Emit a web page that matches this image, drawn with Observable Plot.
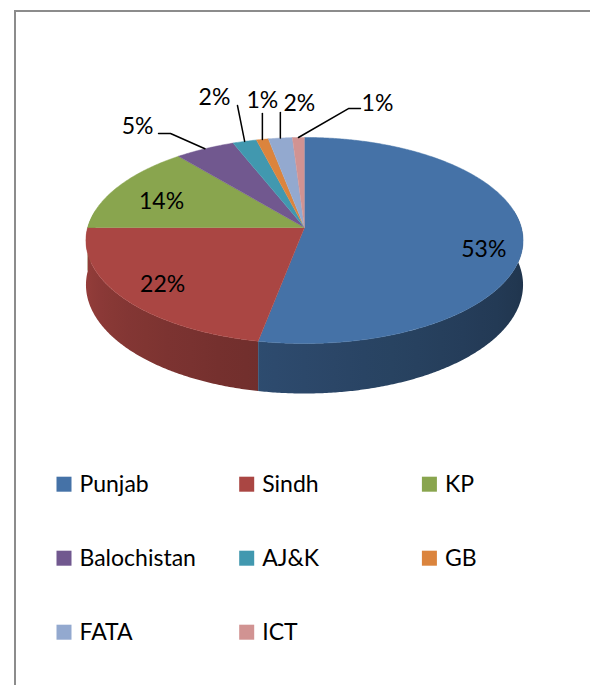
<!DOCTYPE html>
<html>
<head>
<meta charset="utf-8">
<script src="https://cdn.jsdelivr.net/npm/d3@7"></script>
<script src="https://cdn.jsdelivr.net/npm/@observablehq/plot@0.6"></script>
<style>
  html, body { margin: 0; padding: 0; background: #ffffff; }
  #wrap { position: relative; width: 590px; height: 685px; overflow: hidden; }
  #frame { position: absolute; left: 14px; top: 10px; width: 600px; height: 700px;
           border-left: 2px solid #8c8c8c; border-top: 2px solid #8c8c8c; pointer-events: none; }
  #chart { position: absolute; left: 0; top: 0; }
</style>
</head>
<body>
<div id="wrap"><div id="chart"></div><div id="frame"></div></div>
<script>
// ---- data ----
const names  = ["Punjab", "Sindh", "KP", "Balochistan", "AJ&K", "GB", "FATA", "ICT"];
const shares = [53, 22, 14, 5, 2, 1, 2, 1];
const colors = ["#4572A7", "#AA4643", "#89A54E", "#71588F", "#4198AF", "#DB843D", "#93A9CF", "#D19392"];
const labels = ["53%", "22%", "14%", "5%", "2%", "1%", "2%", "1%"];

// ---- layout (pixel geometry of the 3D pie) ----
const cx = 304, cy = 227, A = 216.8, B = 101.4, K = 0.126, T = 43.7;
const deg = Math.PI / 180;
function P(theta, r, z = 0) {
  const u = r * Math.sin(theta * deg), v = -r * Math.cos(theta * deg);
  const w = 1 - K * v;
  return [cx + A * u / w, cy + (B * v + z) / w];
}
const shade = th => Math.max(0.2, Math.min(2.4, 0.25 + (270 - th) / 180 * 2.05));
// label placement: inside labels at radius r with nudge; callouts relative to rim point
const labelLayout = {
  "Punjab":      {r: 0.8, dx: 5,     dy: 14.5},
  "Sindh":       {r: 0.8, dx: 1,     dy: 2},
  "KP":          {r: 0.8, dx: 7.5,   dy: 7},
  "Balochistan": {r: 1, dx: -67.4, dy: -21.8, leader: [[-34.4, -15.3], [-46.4, -15.3]]},
  "AJ&K":        {r: 1, dx: -30.2, dy: -43.4, leader: [[-7.2, -35.9]]},
  "GB":          {r: 1, dx: 0,     dy: -38.9, leader: [[0, -26]]},
  "FATA":        {r: 1, dx: 19,    dy: -34.1, leader: [[0, -25.6]]},
  "ICT":         {r: 1, dx: 79,    dy: -33.4, leader: [[50, -28.9], [62, -28.9]]}
};

// ---- derived geometry ----
const total = d3.sum(shares);
let cum = 0;
const slices = names.map((n, i) => {
  const s = cum / total * 360; cum += shares[i];
  const e = cum / total * 360;
  return {name: n, idx: i, start: s, end: e, mid: (s + e) / 2, color: colors[i], label: labels[i]};
});
// silhouette angles (widest points) and front side range
const thR = Math.acos(-K) / deg, thL = 360 - thR;
const sideLo = 80, sideHi = 280;
const xL = P(thL, 1)[0], xR = P(thR, 1)[0];
// side walls: one polygon per slice, filled with a horizontal shading gradient
const sides = slices
  .map(s => ({s, a0: Math.max(s.start, sideLo), a1: Math.min(s.end, sideHi)}))
  .filter(d => d.a1 > d.a0)
  .sort((p, q) => -Math.cos((p.a0 + p.a1) / 2 * deg) + Math.cos((q.a0 + q.a1) / 2 * deg));
const sidePts = [];
sides.forEach(({s, a0, a1}) => {
  const n = Math.max(2, Math.ceil((a1 - a0) / 0.5));
  const c = `url(#side${s.idx})`;
  for (let j = 0; j <= n; j++) { const [x, y] = P(a0 + (a1 - a0) * j / n, 1, 0); sidePts.push({name: s.name, x, y, c}); }
  for (let j = n; j >= 0; j--) { const [x, y] = P(a0 + (a1 - a0) * j / n, 1, T); sidePts.push({name: s.name, x, y, c}); }
});
// top faces
const topPts = [];
slices.forEach(s => {
  topPts.push({name: s.name, x: cx, y: cy, c: s.color});
  const n = Math.max(2, Math.ceil((s.end - s.start) / 0.5));
  for (let j = 0; j <= n; j++) {
    const [x, y] = P(s.start + (s.end - s.start) * j / n, 1);
    topPts.push({name: s.name, x, y, c: s.color});
  }
});
// labels and leaders
const labelPts = [], leaderPts = [];
slices.forEach(s => {
  const L = labelLayout[s.name];
  const [x0, y0] = P(s.mid, L.r);
  labelPts.push({x: x0 + L.dx, y: y0 + L.dy, text: s.label});
  if (L.leader) {
    leaderPts.push({name: s.name, x: x0, y: y0});
    L.leader.forEach(([dx, dy]) => leaderPts.push({name: s.name, x: x0 + dx, y: y0 + dy}));
  }
});
// legend (3 columns)
const legend = slices.map((s, i) => {
  const col = i % 3, row = Math.floor(i / 3);
  const lx = 56.5 + col * 182.7, ly = 484.2 + row * 74;
  return {name: s.name, c: s.color, x1: lx, x2: lx + 15, y1: ly - 7.5, y2: ly + 7.5, tx: lx + 22.5, ty: ly};
});

const chart = Plot.plot({
  width: 590, height: 685, margin: 0,
  x: {domain: [0, 590], range: [0, 590], axis: null},
  y: {domain: [0, 685], range: [0, 685], axis: null},
  color: {type: "identity"},
  style: {fontFamily: "Lato, 'Open Sans', sans-serif", fontSize: "23px", background: "transparent", color: "#000"},
  marks: [
    Plot.line(sidePts, {x: "x", y: "y", z: "name", fill: "c", stroke: "none", curve: "linear"}),
    Plot.line(topPts, {x: "x", y: "y", z: "name", fill: "c", stroke: "c", strokeWidth: 0.5, curve: "linear"}),
    Plot.line(leaderPts, {x: "x", y: "y", z: "name", stroke: "#000", strokeWidth: 1.5, curve: "linear"}),
    Plot.text(labelPts, {x: "x", y: "y", text: "text", fill: "#000", fontSize: 23}),
    Plot.rect(legend, {x1: "x1", x2: "x2", y1: "y1", y2: "y2", fill: "c"}),
    Plot.text(legend, {x: "tx", y: "ty", text: "name", textAnchor: "start", fill: "#000", fontSize: 23})
  ]
});
// shading gradients for the side walls (horizontal, following the cylinder angle)
const defs = d3.select(chart).insert("defs", ":first-child");
sides.forEach(({s}) => {
  const g = defs.append("linearGradient").attr("id", "side" + s.idx)
    .attr("gradientUnits", "userSpaceOnUse").attr("x1", xL).attr("x2", xR).attr("y1", 0).attr("y2", 0);
  const N = 24;
  for (let j = 0; j <= N; j++) {
    const th = thL - (thL - thR) * j / N;
    const x = P(th, 1)[0];
    g.append("stop").attr("offset", ((x - xL) / (xR - xL)).toFixed(4))
      .attr("stop-color", d3.rgb(s.color).darker(shade(th)).formatHex());
  }
});
document.getElementById("chart").appendChild(chart);
</script>
</body>
</html>
